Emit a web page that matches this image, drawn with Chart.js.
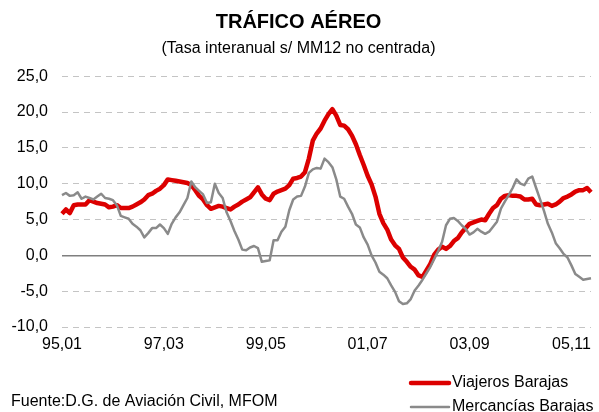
<!DOCTYPE html>
<html lang="es">
<head>
<meta charset="utf-8">
<title>Tráfico aéreo</title>
<script src="https://cdn.jsdelivr.net/npm/chart.js@4/dist/chart.umd.min.js"></script>
<style>
  html, body { margin: 0; padding: 0; background: #fff; }
  #wrap { position: relative; width: 599px; height: 412px; }
</style>
</head>
<body>
<div id="wrap"><canvas id="traficoChart"></canvas></div>
<script>
// Monthly series, 95,01 to 06,04
const startYear = 1995;
const startMonth = 1;
const nMonths = 136;

// Labels shown on the x axis (every 26 months)
const tickLabels = ['95,01', '97,03', '99,05', '01,07', '03,09', '05,11'];

// Viajeros Barajas (% interanual)
const viajeros = [
  5.8, 6.4, 5.9, 7.0, 7.1, 7.1, 7.1, 7.7, 7.5, 7.3,
  7.2, 7.1, 6.7, 6.8, 7.0, 6.6, 6.6, 6.6, 6.8, 7.1,
  7.4, 7.8, 8.4, 8.6, 9.0, 9.3, 9.8, 10.6, 10.5, 10.4,
  10.3, 10.2, 10.1, 9.8, 9.1, 8.3, 7.8, 7.0, 6.5, 6.7,
  6.9, 6.8, 6.6, 6.4, 6.8, 7.1, 7.5, 7.8, 8.1, 8.8,
  9.5, 8.5, 7.9, 7.7, 8.6, 8.9, 9.1, 9.3, 9.8, 10.7,
  10.8, 11.0, 11.6, 13.5, 16.0, 17.0, 17.7, 18.8, 19.7, 20.4,
  19.5, 18.2, 18.1, 17.6, 16.7, 15.5, 14.0, 12.6, 11.1, 9.9,
  8.2, 5.8, 4.5, 3.6, 2.2, 1.4, 0.9, -0.3, -0.9, -1.6,
  -2.0, -2.8, -3.0, -2.1, -1.2, 0.1, 0.8, 1.2, 0.9, 1.3,
  2.0, 2.4, 3.2, 3.8, 4.4, 4.6, 4.8, 5.0, 4.9, 5.8,
  6.6, 7.0, 7.9, 8.3, 8.4, 8.3, 8.3, 8.2, 7.8, 7.8,
  7.9, 7.1, 7.0, 7.1, 7.2, 6.9, 7.1, 7.5, 8.0, 8.2,
  8.5, 8.9, 9.1, 9.1, 9.4, 8.8
];

// Mercancías Barajas (% interanual)
const mercancias = [
  8.4, 8.7, 8.3, 8.4, 8.8, 7.9, 8.2, 8.0, 7.8, 8.2,
  8.6, 8.0, 7.9, 7.7, 7.0, 5.5, 5.3, 5.1, 4.4, 4.0,
  3.5, 2.5, 3.1, 3.8, 3.8, 4.3, 3.8, 3.0, 4.4, 5.3,
  6.0, 7.0, 8.0, 10.3, 9.5, 9.0, 8.5, 7.3, 7.4, 10.0,
  8.7, 8.0, 6.0, 4.8, 3.4, 2.2, 0.8, 0.7, 1.1, 1.3,
  1.0, -0.9, -0.8, -0.7, 2.1, 2.1, 3.3, 4.0, 6.3, 7.8,
  8.2, 8.3, 9.6, 11.5, 12.0, 12.2, 12.1, 13.5, 13.0, 12.3,
  10.6, 8.2, 7.9, 6.8, 5.8, 4.3, 3.9, 2.5, 1.5, 0.0,
  -1.0, -2.3, -2.7, -3.2, -4.2, -5.1, -6.4, -6.8, -6.7, -6.1,
  -4.9, -4.2, -3.4, -2.5, -1.6, -0.5, 0.6, 1.9, 4.2, 5.1,
  5.2, 4.8, 4.2, 3.7, 2.9, 3.2, 3.7, 3.3, 3.0, 3.3,
  4.0, 4.7, 6.5, 7.5, 8.4, 9.4, 10.6, 10.0, 9.8, 10.7,
  11.0, 9.4, 7.8, 6.2, 4.4, 3.2, 1.7, 1.0, 0.2, -0.3,
  -1.4, -2.6, -3.0, -3.4, -3.3, -3.2
];

// Category labels "yy,mm"
const categories = [];
for (let i = 0; i < nMonths; i++) {
  const m = startMonth - 1 + i;
  const yy = String((startYear + Math.floor(m / 12)) % 100).padStart(2, '0');
  const mm = String((m % 12) + 1).padStart(2, '0');
  categories.push(yy + ',' + mm);
}

const FONT = "'Liberation Sans', Arial, sans-serif";
const RED = '#dc0000';
const GREY = '#8a8a8a';

// Source note and vertical legend below the plot
const footerPlugin = {
  id: 'footer',
  afterDraw(chart) {
    const ctx = chart.ctx;
    ctx.save();
    ctx.font = '16px ' + FONT;
    ctx.fillStyle = '#000';
    ctx.textBaseline = 'middle';
    ctx.textAlign = 'left';
    ctx.fillText('Fuente:D.G. de Aviación Civil, MFOM', 11, 402);

    chart.data.datasets.forEach((ds, i) => {
      const y = 383 + i * 24;
      ctx.strokeStyle = ds.borderColor;
      ctx.lineWidth = ds.borderWidth;
      ctx.lineCap = 'round';
      ctx.beginPath();
      ctx.moveTo(411, y);
      ctx.lineTo(449, y);
      ctx.stroke();
      ctx.fillText(ds.label, 452, y);
    });
    ctx.restore();
  }
};

new Chart(document.getElementById('traficoChart'), {
  type: 'line',
  data: {
    labels: categories,
    datasets: [
      {
        label: 'Viajeros Barajas',
        data: viajeros,
        borderColor: RED,
        borderWidth: 4.5,
        pointRadius: 0,
        tension: 0,
        borderJoinStyle: 'round',
        order: 2,
      },
      {
        label: 'Mercancías Barajas',
        data: mercancias,
        borderColor: GREY,
        borderWidth: 2.5,
        pointRadius: 0,
        tension: 0,
        borderJoinStyle: 'round',
        order: 1,
      },
    ],
  },
  options: {
    responsive: true,
    maintainAspectRatio: false,
    animation: false,
    layout: { padding: { left: 0, right: 2, top: 0, bottom: 55 } },
    plugins: {
      legend: { display: false },
      tooltip: { enabled: false },
      title: {
        display: true,
        text: 'TRÁFICO AÉREO',
        color: '#000',
        font: { family: FONT, size: 20, weight: 'bold' },
        padding: { top: 10, bottom: 2 },
      },
      subtitle: {
        display: true,
        text: '(Tasa interanual s/ MM12 no centrada)',
        color: '#000',
        font: { family: FONT, size: 16 },
        padding: { top: 3, bottom: 18 },
      },
    },
    scales: {
      x: {
        offset: false,
        grid: { display: false, drawTicks: false },
        border: { display: false },
        ticks: {
          autoSkip: false,
          maxRotation: 0,
          padding: 8,
          color: '#000',
          font: { family: FONT, size: 16 },
          callback: function (value) {
            const lab = this.getLabelForValue(value);
            return tickLabels.includes(lab) ? lab : '';
          },
        },
        afterFit(scale) { scale.height = 30; },
      },
      y: {
        min: -10,
        max: 25,
        grid: {
          drawTicks: false,
          color: (c) => (c.tick && c.tick.value === 0 ? '#7f7f7f' : '#c4c4c4'),
          lineWidth: (c) => (c.tick && c.tick.value === 0 ? 1.5 : 1),
        },
        border: {
          display: false,
          dash: (c) => (c.tick && c.tick.value === 0 ? [] : [6, 5]),
        },
        ticks: {
          stepSize: 5,
          padding: 14,
          color: '#000',
          font: { family: FONT, size: 16 },
          callback: (v) => v.toFixed(1).replace('.', ','),
        },
        afterFit(scale) { scale.width = 62; },
      },
    },
  },
  plugins: [footerPlugin],
});
</script>
</body>
</html>
